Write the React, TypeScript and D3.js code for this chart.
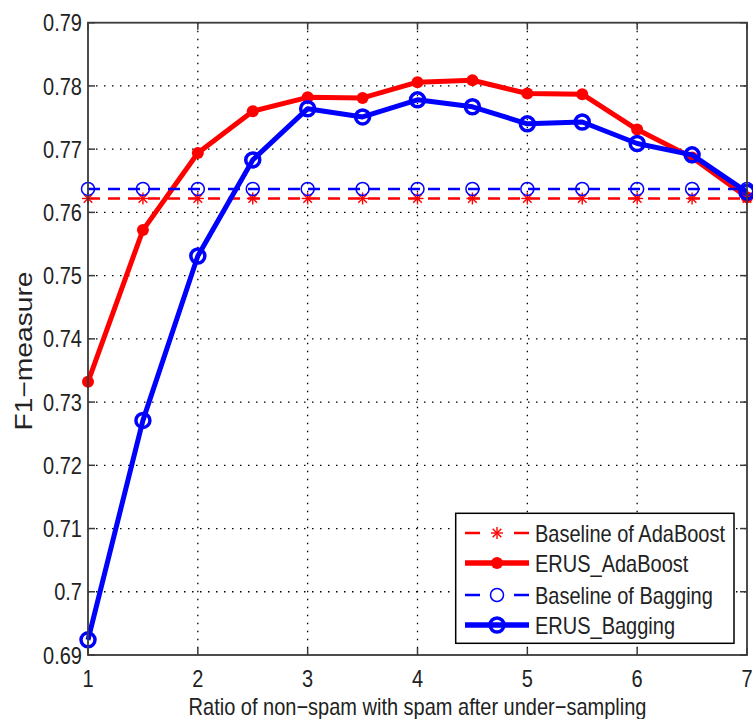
import * as d3 from "d3";

const ratios = [1, 1.5, 2, 2.5, 3, 3.5, 4, 4.5, 5, 5.5, 6, 6.5, 7];
const baselineAdaBoost = [0.7622, 0.7622, 0.7622, 0.7622, 0.7622, 0.7622, 0.7622, 0.7622, 0.7622, 0.7622, 0.7622, 0.7622, 0.7622];
const erusAdaBoost = [0.7332, 0.7572, 0.7694, 0.776, 0.7782, 0.7781, 0.7806, 0.7809, 0.7788, 0.7787, 0.7731, 0.7687, 0.7624];
const baselineBagging = [0.7637, 0.7637, 0.7637, 0.7637, 0.7637, 0.7637, 0.7637, 0.7637, 0.7637, 0.7637, 0.7637, 0.7637, 0.7637];
const erusBagging = [0.6924, 0.7271, 0.7531, 0.7683, 0.7764, 0.7751, 0.7778, 0.7767, 0.774, 0.7743, 0.7709, 0.7691, 0.7632];
const xTicks = [1, 2, 3, 4, 5, 6, 7];
const yTicks = [0.69, 0.7, 0.71, 0.72, 0.73, 0.74, 0.75, 0.76, 0.77, 0.78, 0.79];
const legendLabels = ["Baseline of AdaBoost", "ERUS_AdaBoost", "Baseline of Bagging", "ERUS_Bagging"];

const W = 753;
const H = 719;
const left = 88;
const right = 747;
const top = 22.7;
const bottom = 655;
const FONT = "'Liberation Sans', Arial, Helvetica, sans-serif";
const RED = "#ff0000";
const BLUE = "#0000ff";
const AXIS = "#3a3a3a";

// text is a bit taller than it is wide in the reference
function Label(p: { x: number; y: number; text: string; anchor?: string; size?: number }) {
  return (
    <text
      transform={`translate(${p.x},${p.y}) scale(1,1.2)`}
      textAnchor={p.anchor || "start"}
      fontFamily={FONT}
      fontSize={p.size || 20}
      fill="#222"
    >
      {p.text}
    </text>
  );
}

function Star(p: { x: number; y: number }) {
  const r = 6;
  const d = r * 0.72;
  return (
    <g stroke={RED} strokeWidth={1.4}>
      <line x1={p.x - r} y1={p.y} x2={p.x + r} y2={p.y} />
      <line x1={p.x} y1={p.y - r} x2={p.x} y2={p.y + r} />
      <line x1={p.x - d} y1={p.y - d} x2={p.x + d} y2={p.y + d} />
      <line x1={p.x - d} y1={p.y + d} x2={p.x + d} y2={p.y - d} />
    </g>
  );
}

export default function App() {
  const x = d3.scaleLinear().domain([1, 7]).range([left, right]);
  const y = d3.scaleLinear().domain([0.69, 0.79]).range([bottom, top]);

  const line = d3
    .line<number>()
    .x((_, i) => x(ratios[i]))
    .y((d) => y(d));

  const lx0 = 465;
  const lx1 = 529;
  const lxm = (lx0 + lx1) / 2;
  const rows = [533, 563, 595, 625];
  const legendDash = "15,34";

  return (
    <svg width={W} height={H} style={{ position: "absolute", left: 0, top: 0, background: "#fff" }}>
      <rect x={0} y={0} width={W} height={H} fill="#fff" />

      {/* grid */}
      <g stroke="#000" strokeWidth={1.3} strokeDasharray="1.5,6.5">
        {yTicks.slice(1, -1).map((t) => (
          <line key={"gy" + t} x1={left} x2={right} y1={y(t)} y2={y(t)} />
        ))}
        {xTicks.slice(1, -1).map((t) => (
          <line key={"gx" + t} y1={top} y2={bottom} x1={x(t)} x2={x(t)} />
        ))}
      </g>

      {/* baseline of AdaBoost */}
      <path d={line(baselineAdaBoost) || ""} fill="none" stroke={RED} strokeWidth={2.5} strokeDasharray="12,8" />
      {baselineAdaBoost.map((v, i) => (
        <Star key={"s" + i} x={x(ratios[i])} y={y(v)} />
      ))}

      {/* ERUS AdaBoost */}
      <path d={line(erusAdaBoost) || ""} fill="none" stroke={RED} strokeWidth={5} strokeLinejoin="round" />
      {erusAdaBoost.map((v, i) => (
        <circle key={"ra" + i} cx={x(ratios[i])} cy={y(v)} r={6} fill={RED} />
      ))}

      {/* baseline of Bagging */}
      <path d={line(baselineBagging) || ""} fill="none" stroke={BLUE} strokeWidth={2.5} strokeDasharray="12,8" />
      {baselineBagging.map((v, i) => (
        <circle key={"bb" + i} cx={x(ratios[i])} cy={y(v)} r={6.5} fill="none" stroke={BLUE} strokeWidth={1.5} />
      ))}

      {/* ERUS Bagging */}
      <path d={line(erusBagging) || ""} fill="none" stroke={BLUE} strokeWidth={5} strokeLinejoin="round" />
      {erusBagging.map((v, i) => (
        <circle key={"eb" + i} cx={x(ratios[i])} cy={y(v)} r={7} fill="none" stroke={BLUE} strokeWidth={3.5} />
      ))}

      {/* axes box and ticks */}
      <rect x={left} y={top} width={right - left} height={bottom - top} fill="none" stroke={AXIS} strokeWidth={1.8} />
      <g stroke={AXIS} strokeWidth={1.5}>
        {yTicks.map((t) => (
          <g key={"ty" + t}>
            <line x1={left} x2={left + 7} y1={y(t)} y2={y(t)} />
            <line x1={right} x2={right - 7} y1={y(t)} y2={y(t)} />
          </g>
        ))}
        {xTicks.map((t) => (
          <g key={"tx" + t}>
            <line y1={bottom} y2={bottom - 7} x1={x(t)} x2={x(t)} />
            <line y1={top} y2={top + 7} x1={x(t)} x2={x(t)} />
          </g>
        ))}
      </g>

      {yTicks.map((t) => (
        <Label key={"ly" + t} x={82} y={y(t) + 8.6} text={String(+t.toFixed(2))} anchor="end" />
      ))}
      {xTicks.map((t) => (
        <Label key={"lx" + t} x={x(t)} y={687} text={String(t)} anchor="middle" />
      ))}
      <Label x={(left + right) / 2} y={715} text="Ratio of non−spam with spam after under−sampling" anchor="middle" />
      <text
        transform={`translate(32,351) rotate(-90) scale(1.2,1)`}
        textAnchor="middle"
        fontFamily={FONT}
        fontSize={23.5}
        fill="#222"
      >
        F1−measure
      </text>

      {/* legend */}
      <rect x={455.7} y={513.3} width={278.3} height={130} fill="#fff" stroke="#000" strokeWidth={1.5} />
      <line x1={lx0} x2={lx1} y1={rows[0]} y2={rows[0]} stroke={RED} strokeWidth={2.5} strokeDasharray={legendDash} />
      <Star x={lxm} y={rows[0]} />
      <line x1={lx0} x2={lx1} y1={rows[1]} y2={rows[1]} stroke={RED} strokeWidth={5.5} />
      <circle cx={lxm} cy={rows[1]} r={6} fill={RED} />
      <line x1={lx0} x2={lx1} y1={rows[2]} y2={rows[2]} stroke={BLUE} strokeWidth={2.5} strokeDasharray={legendDash} />
      <circle cx={lxm} cy={rows[2]} r={6.5} fill="none" stroke={BLUE} strokeWidth={1.5} />
      <line x1={lx0} x2={lx1} y1={rows[3]} y2={rows[3]} stroke={BLUE} strokeWidth={5.5} />
      <circle cx={lxm} cy={rows[3]} r={7} fill="none" stroke={BLUE} strokeWidth={3.5} />
      {legendLabels.map((s, i) => (
        <Label key={s} x={535} y={rows[i] + 8.6} text={s} />
      ))}
    </svg>
  );
}
